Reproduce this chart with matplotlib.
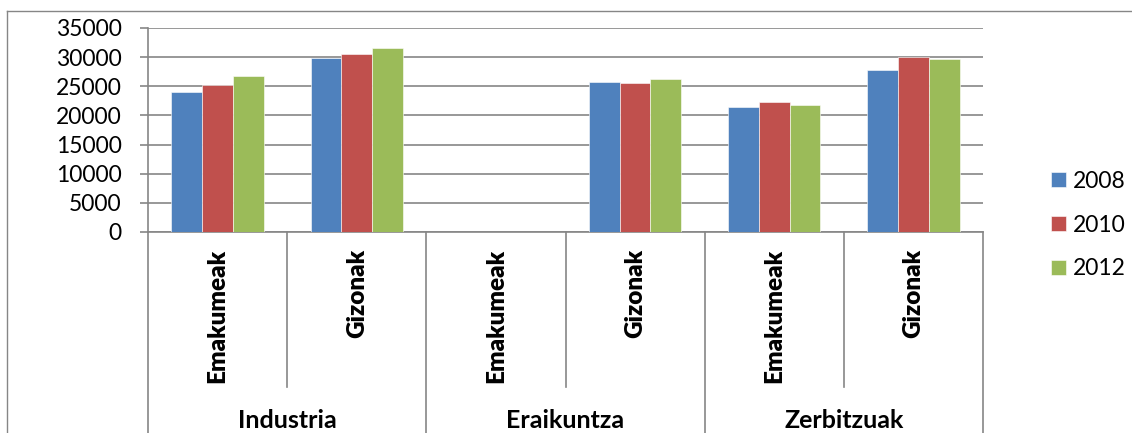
import numpy as np
import matplotlib
matplotlib.use("Agg")
import matplotlib.pyplot as plt
from matplotlib.lines import Line2D
import matplotlib.transforms as mtransforms

plt.rcParams["font.family"] = ["Lato", "DejaVu Sans"]

# =====================================================
# Data
# =====================================================
groups = ["Industria", "Eraikuntza", "Zerbitzuak"]
subgroups = ["Emakumeak", "Gizonak"]
years = ["2008", "2010", "2012"]

vals_2008 = [24100, 29800, np.nan, 25700, 21400, 27800]
vals_2010 = [25300, 30600, np.nan, 25600, 22300, 30000]
vals_2012 = [26700, 31500, np.nan, 26200, 21800, 29600]

colors = ["#4F81BD", "#C0504D", "#9BBB59"]
grey = "#868686"

# =====================================================
# Figure / axes in pixel terms
# =====================================================
W, H = 1132, 433
fig = plt.figure(figsize=(W / 100, H / 100), dpi=100)


def fx(px):
    return px / W


def fy(py):
    return 1 - py / H


x0, x1, y0, y1 = 148, 983, 232, 28
ax = fig.add_axes([fx(x0), fy(y0), fx(x1 - x0), (y0 - y1) / H])

# outer chart frame
fig.add_artist(Line2D([fx(7), fx(7)], [fy(11), 0], color=grey, lw=1))
fig.add_artist(Line2D([fx(7), 1], [fy(11), fy(11)], color=grey, lw=1))

# =====================================================
# Bars
# =====================================================
n_cat = len(groups) * len(subgroups)
pos = np.arange(n_cat) + 0.5
w = 0.221
for j, (yr, v) in enumerate(zip(years, [vals_2008, vals_2010, vals_2012])):
    ax.bar(pos + (j - 1) * w, v, width=w, color=colors[j], label=yr,
           edgecolor="white", linewidth=0.4, zorder=3)

ax.set_xlim(0, n_cat)
ax.set_ylim(0, 35000)
ax.set_yticks(np.arange(0, 35001, 5000))
ax.yaxis.grid(True, color=grey, lw=1.2, zorder=0)
ax.set_xticks([])
for s in ["top", "right"]:
    ax.spines[s].set_visible(False)
for s in ["left", "bottom"]:
    ax.spines[s].set_color(grey)
    ax.spines[s].set_linewidth(1.2)
ax.tick_params(axis="y", length=6, width=1.2, color=grey, pad=13,
               labelsize=16.5, labelcolor="black")

# =====================================================
# Two-level category axis
# =====================================================
trans = mtransforms.blended_transform_factory(ax.transData, ax.transAxes)
hpx = y0 - y1


def ay(py):
    return (y0 - py) / hpx


for k in range(n_cat + 1):
    bottom = ay(440) if k % 2 == 0 else ay(387)
    ax.plot([k, k], [0, bottom], color=grey, lw=1.2, transform=trans,
            clip_on=False)

for k in range(n_cat):
    ax.text(k + 0.5, ay(249), subgroups[k % 2], rotation=90, ha="center",
            va="top", fontsize=17.5, fontweight="heavy", transform=trans)

for g, name in enumerate(groups):
    ax.text(2 * g + 1, ay(428), name, ha="center", va="baseline",
            fontsize=18, fontweight="bold", transform=trans)

# =====================================================
# Legend
# =====================================================
fig.legend(loc="center left", bbox_to_anchor=(fx(1040), fy(225)),
           frameon=False, fontsize=16.5, handlelength=0.65,
           handleheight=0.65, handletextpad=0.3, labelspacing=1.0,
           borderpad=0)

fig.savefig("out.png", dpi=100)
